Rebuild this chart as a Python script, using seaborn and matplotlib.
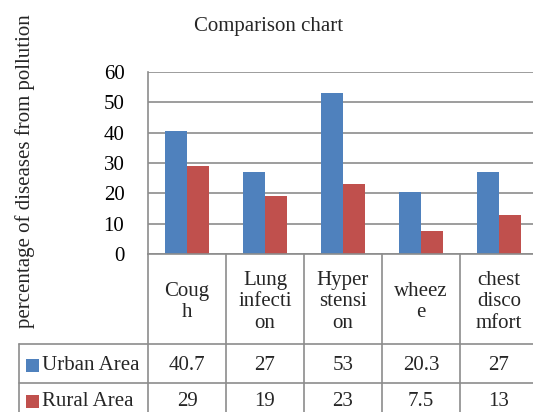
import matplotlib
matplotlib.use("Agg")
import matplotlib.pyplot as plt
import matplotlib.transforms as mtransforms
from matplotlib.lines import Line2D
from matplotlib.patches import Rectangle
import pandas as pd
import seaborn as sns

# data
diseases = ["Cough", "Lung infection", "Hyperstension", "wheeze", "chest discomfort"]
cell_labels = ["Coug\nh", "Lung\ninfecti\non", "Hyper\nstensi\non", "wheez\ne", "chest\ndisco\nmfort"]
urban = [40.7, 27, 53, 20.3, 27]
rural = [29, 19, 23, 7.5, 13]
series = ["Urban Area", "Rural Area"]
colors = ["#4F81BD", "#C0504D"]

W, H = 533, 412
GRAY = "#8c8c8c"
FS = 15

sns.set_theme(style="white")
plt.rcParams["font.family"] = ["Liberation Serif", "DejaVu Serif"]

df = pd.DataFrame({
    "disease": diseases * 2,
    "value": urban + rural,
    "area": [series[0]] * len(diseases) + [series[1]] * len(diseases),
})

fig = plt.figure(figsize=(W / 100, H / 100), dpi=100)
# plot area in pixels: left 148, right 538 (runs past the edge), top 72, bottom 254
ax = fig.add_axes([148 / W, 1 - 254 / H, 390 / W, 182 / H])

sns.barplot(data=df, x="disease", y="value", hue="area", palette=colors,
            width=0.57, ax=ax, legend=False, saturation=1, edgecolor="none")

ax.set_ylim(0, 60)
ax.set_yticks(range(0, 61, 10))
ax.set_xlim(-0.5, len(diseases) - 0.5)
ax.set_xticks([])
ax.set_xlabel("")
ax.set_ylabel("")
ax.yaxis.grid(True, color=GRAY, linewidth=1.2)
ax.set_axisbelow(True)
ax.tick_params(axis="y", length=0, pad=17, labelsize=FS, colors="black")
for side in ["top", "right"]:
    ax.spines[side].set_visible(False)
for side in ["left", "bottom"]:
    ax.spines[side].set_color(GRAY)
    ax.spines[side].set_linewidth(1.2)

fig.text(269 / W, 1 - 27 / H, "Comparison chart", ha="center", va="center", fontsize=FS)
fig.text(25 / W, 1 - 328 / H, "percentage of diseases from pollution", rotation=90,
         rotation_mode="anchor", ha="left", va="center", fontsize=FS)

# data table under the plot
blend = mtransforms.blended_transform_factory(ax.transData, fig.transFigure)
fy = lambda y: 1 - y / H
n = len(diseases)
row_top, row1, row2, row_end = 254, 344, 383, 420

for b in [i - 0.5 for i in range(n + 1)]:
    fig.add_artist(Line2D([b, b], [fy(row_top), fy(row_end)], transform=blend,
                          color=GRAY, linewidth=1.2))
for y in [row1, row2]:
    fig.add_artist(Line2D([18.5 / W, 1.0], [fy(y), fy(y)], transform=fig.transFigure,
                          color=GRAY, linewidth=1.2))
fig.add_artist(Line2D([18.5 / W, 18.5 / W], [fy(row1), fy(row_end)], transform=fig.transFigure,
                      color=GRAY, linewidth=1.2))

for i, lab in enumerate(cell_labels):
    fig.text(i, fy(302), lab, transform=blend, ha="center", va="center",
             fontsize=FS, linespacing=1.2)

for vals, name, col, yc in [(urban, series[0], colors[0], 365), (rural, series[1], colors[1], 401)]:
    fig.add_artist(Rectangle((25.5 / W, fy(yc + 6.5)), 13 / W, 13 / H, transform=fig.transFigure,
                             facecolor=col, edgecolor="none"))
    fig.text(42 / W, fy(yc), name, ha="left", va="center", fontsize=FS)
    for i, v in enumerate(vals):
        fig.text(i, fy(yc), f"{v:g}", transform=blend, ha="center", va="center", fontsize=FS)

fig.savefig("out.png", dpi=100)
